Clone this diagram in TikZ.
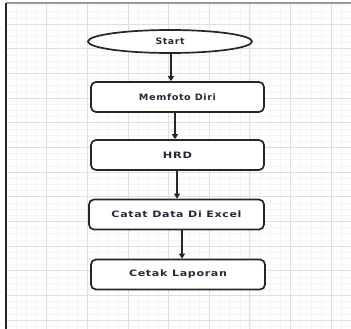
\documentclass[tikz,border=0pt]{standalone}
\usepackage{fontspec}
\usepackage{graphicx}
\usetikzlibrary{shapes.geometric,arrows.meta}
\newfontfamily\lblfont[LetterSpace=6]{DejaVu Sans Bold}
\newcommand{\lbl}[2]{\resizebox{#1pt}{\height}{\lblfont\fontsize{8.8pt}{10pt}\selectfont #2}}
\definecolor{gridmajor}{HTML}{DFDFDF}
\definecolor{gridminor}{HTML}{F4F4F4}
\definecolor{ink}{HTML}{262626}
\definecolor{txt}{HTML}{2A2838}
\tikzset{
  minorline/.style={draw=gridminor,line width=0.45pt},
  majorline/.style={draw=gridmajor,line width=0.9pt},
  procbox/.style={draw=ink,line width=1.7pt,rounded corners=5pt,fill=white,
    minimum width=173pt,minimum height=30pt,inner sep=0pt,text=txt},
  termnode/.style={ellipse,draw=ink,line width=1.7pt,fill=white,
    minimum width=164pt,minimum height=23pt,inner sep=0pt,text=txt},
  arr/.style={draw=ink,line width=1.4pt,-{Triangle[length=5pt,width=6pt]}}
}
\begin{document}
\begin{tikzpicture}[x=1pt,y=-1pt]
\useasboundingbox (0,0) rectangle (351,329);
\fill[white] (0,0) rectangle (351,329);
% minor grid
\foreach \i in {1,...,33} {\draw[minorline] ({6+\i*10.1625},3) -- ({6+\i*10.1625},329);}
\foreach \k in {0,...,52} {\draw[minorline] (6,{24+(\k-3)*6.1667}) -- (351,{24+(\k-3)*6.1667});}
% major grid
\foreach \i in {1,...,8} {\draw[majorline] ({6+\i*40.65},3) -- ({6+\i*40.65},329);}
\foreach \k in {0,...,12} {\draw[majorline] (6,{24+\k*24.667}) -- (351,{24+\k*24.667});}
% frame
\draw[draw=gray!80,line width=1.5pt] (6,3) -- (351,3);
\draw[draw=ink,line width=1.2pt] (6,3) -- (6,329);
% nodes
\node[termnode] (start) at (170,41.5) {\lbl{29}{Start}};
\node[procbox] (mem) at (177.5,97) {\lbl{77}{Memfoto Diri}};
\node[procbox] (hrd) at (177.5,155) {\lbl{29}{HRD}};
\node[procbox,minimum width=175pt] (cat) at (176.5,214.5) {\lbl{130}{Catat Data Di Excel}};
\node[procbox,minimum width=174pt] (cet) at (178,274.5) {\lbl{98}{Cetak Laporan}};
% connectors
\draw[arr] ([xshift=1pt]start.south) -- ([xshift=1pt]start.south |- mem.north);
\draw[arr] ([xshift=-2.5pt]mem.south) -- ([xshift=-2.5pt]mem.south |- hrd.north);
\draw[arr] ([xshift=-0.5pt]hrd.south) -- ([xshift=-0.5pt]hrd.south |- cat.north);
\draw[arr] ([xshift=5.5pt]cat.south) -- ([xshift=5.5pt]cat.south |- cet.north);
\end{tikzpicture}
\end{document}
